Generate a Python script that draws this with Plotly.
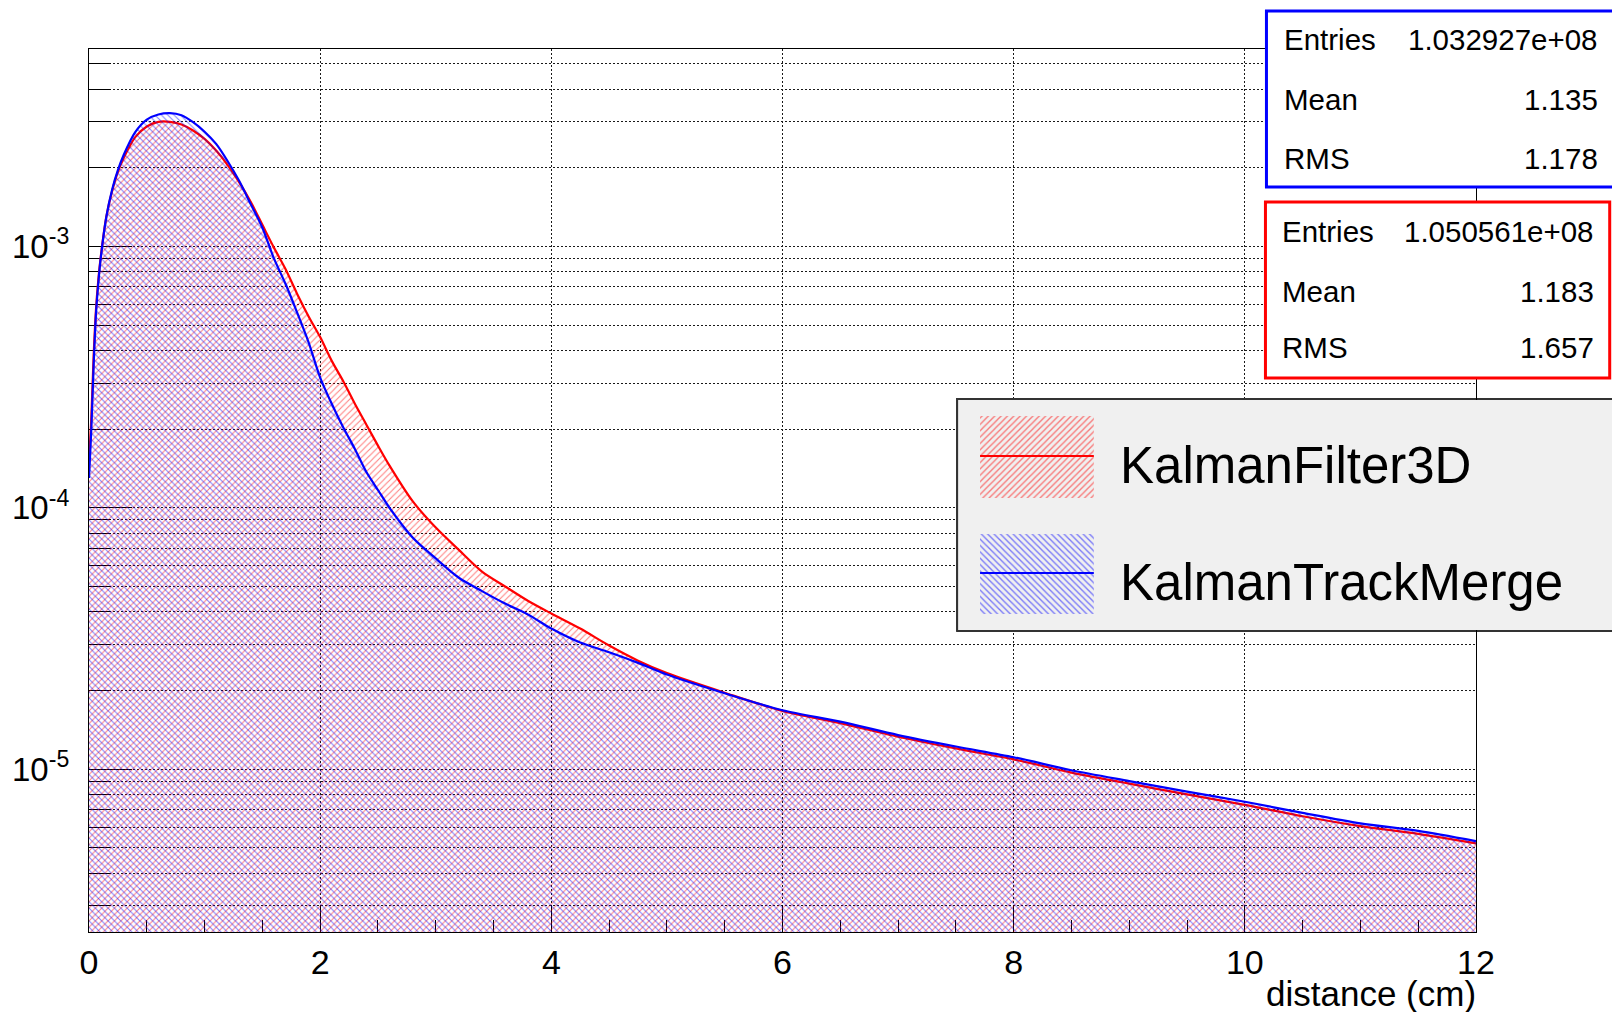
import plotly.graph_objects as go

# ---------------- data ----------------
distance_cm = [0.00, 0.02, 0.04, 0.06, 0.08, 0.10, 0.15, 0.20, 0.25, 0.30,
               0.40, 0.50, 0.60, 0.70, 0.80, 0.90, 1.00, 1.10, 1.20, 1.30,
               1.40, 1.50, 1.60, 1.70, 1.80, 1.90, 2.00, 2.10, 2.20, 2.30,
               2.40, 2.50, 2.60, 2.80, 3.00, 3.20, 3.40, 3.60, 3.80, 4.00,
               4.25, 4.50, 4.75, 5.00, 5.50, 6.00, 6.50, 7.00, 7.50, 8.00,
               8.50, 9.00, 9.50, 10.0, 10.5, 11.0, 11.5, 12.0]

kalman_filter_3d = [1.5e-4, 2.2e-4, 3.8e-4, 5.7e-4, 7.4e-4, 9.0e-4, 1.30e-3, 1.63e-3, 1.93e-3, 2.18e-3,
                    2.62e-3, 2.88e-3, 3.00e-3, 3.00e-3, 2.93e-3, 2.78e-3, 2.58e-3, 2.33e-3, 2.05e-3, 1.76e-3,
                    1.48e-3, 1.21e-3, 9.9e-4, 8.2e-4, 6.6e-4, 5.4e-4, 4.5e-4, 3.65e-4, 3.05e-4, 2.5e-4,
                    2.08e-4, 1.73e-4, 1.45e-4, 1.06e-4, 8.4e-5, 6.9e-5, 5.7e-5, 5.0e-5, 4.4e-5, 3.94e-5,
                    3.45e-5, 2.97e-5, 2.6e-5, 2.33e-5, 1.96e-5, 1.67e-5, 1.50e-5, 1.33e-5, 1.20e-5, 1.09e-5,
                    9.7e-6, 8.8e-6, 8.0e-6, 7.3e-6, 6.6e-6, 6.05e-6, 5.65e-6, 5.2e-6]

kalman_track_merge = [1.3e-4, 2.0e-4, 3.5e-4, 5.5e-4, 7.2e-4, 8.9e-4, 1.30e-3, 1.65e-3, 1.96e-3, 2.24e-3,
                      2.74e-3, 3.06e-3, 3.20e-3, 3.24e-3, 3.18e-3, 2.99e-3, 2.75e-3, 2.47e-3, 2.12e-3, 1.78e-3,
                      1.45e-3, 1.18e-3, 9.0e-4, 7.2e-4, 5.6e-4, 4.3e-4, 3.15e-4, 2.5e-4, 2.03e-4, 1.68e-4,
                      1.37e-4, 1.17e-4, 1.0e-4, 7.7e-5, 6.4e-5, 5.4e-5, 4.8e-5, 4.3e-5, 3.9e-5, 3.45e-5,
                      3.05e-5, 2.8e-5, 2.55e-5, 2.3e-5, 1.95e-5, 1.68e-5, 1.52e-5, 1.35e-5, 1.22e-5, 1.11e-5,
                      9.9e-6, 9.0e-6, 8.2e-6, 7.5e-6, 6.8e-6, 6.2e-6, 5.8e-6, 5.3e-6]

series_names = ["KalmanFilter3D", "KalmanTrackMerge"]

x_major_ticks = [0, 2, 4, 6, 8, 10, 12]
y_major_ticks = [1e-5, 1e-4, 1e-3]
y_major_text = ["10<sup>-5</sup>", "10<sup>-4</sup>", "10<sup>-3</sup>"]

stats_track_merge = [("Entries", "1.032927e+08"), ("Mean", "1.135"), ("RMS", "1.178")]
stats_filter_3d = [("Entries", "1.050561e+08"), ("Mean", "1.183"), ("RMS", "1.657")]

# ---------------- geometry / style ----------------
W, H = 1612, 1012
L, R, T, B = 86, 1476, 49, 932
PW, PH = R - L, B - T
Y_RANGE = [-5.6234, -2.2442]
FONT = "Liberation Sans, Arial, Helvetica, sans-serif"
RED, BLUE = "#ff0000", "#0000ff"
GRID_DASH = "1.5px,2.5px"
GRID_COL = "#1a1a1a"
LEG_BG = "#f0f0f0"
HATCH_SIZE, HATCH_SOLID = 4.5, 0.24


def px(xpix):
    return (xpix - L) / PW


def py(ypix):
    return (B - ypix) / PH


y_minor_ticks = [m * 10.0 ** e for e in (-6, -5, -4, -3) for m in range(2, 10)
                 if 10 ** Y_RANGE[0] < m * 10.0 ** e < 10 ** Y_RANGE[1]]
x_minor_ticks = [v / 2 for v in range(0, 25) if v % 4 != 0]

fig = go.Figure()

# histograms
for name, vals, col, shp in [(series_names[0], kalman_filter_3d, RED, "/"),
                             (series_names[1], kalman_track_merge, BLUE, "\\")]:
    fig.add_trace(go.Scatter(
        x=distance_cm, y=vals, name=name, mode="lines",
        line=dict(color=col, width=2.2, shape="spline", smoothing=0.8),
        fill="tozeroy", fillcolor="rgba(0,0,0,0)",
        fillpattern=dict(shape=shp, size=HATCH_SIZE, solidity=HATCH_SOLID, fgcolor=col,
                         bgcolor="rgba(0,0,0,0)"),
        hoverinfo="skip", showlegend=False,
    ))

# legend box (inside-the-frame part drawn on an overlay subplot so it hides the grid)
lg_x0, lg_y0, lg_y1 = px(956), py(631), py(399)
fig.add_trace(go.Scatter(
    x=[lg_x0, 1.2, 1.2, lg_x0, lg_x0], y=[lg_y0, lg_y0, lg_y1, lg_y1, lg_y0],
    xaxis="x2", yaxis="y2", mode="lines", fill="toself", fillcolor=LEG_BG,
    line=dict(color="#333333", width=2), hoverinfo="skip", showlegend=False))

patches = [(RED, "/", 416, 498, 456, 465, series_names[0]),
           (BLUE, "\\", 534, 614, 573, 582, series_names[1])]
for col, shp, ytop, ybot, yline, ytext, label in patches:
    x0, x1 = px(979), px(1093)
    fig.add_trace(go.Scatter(
        x=[x0, x1, x1, x0, x0], y=[py(ybot), py(ybot), py(ytop), py(ytop), py(ybot)],
        xaxis="x2", yaxis="y2", mode="lines", fill="toself", fillcolor="rgba(0,0,0,0)",
        fillpattern=dict(shape=shp, size=HATCH_SIZE, solidity=0.3, fgcolor=col,
                         bgcolor="rgba(0,0,0,0)"),
        line=dict(width=0, color="rgba(0,0,0,0)"), hoverinfo="skip", showlegend=False))
    fig.add_trace(go.Scatter(
        x=[x0, x1], y=[py(yline), py(yline)], xaxis="x2", yaxis="y2", mode="lines",
        line=dict(color=col, width=2), hoverinfo="skip", showlegend=False))
    fig.add_annotation(text=label, xref="paper", yref="paper", x=px(1117), y=py(ytext),
                       xanchor="left", yanchor="middle", showarrow=False,
                       font=dict(family=FONT, size=51, color="black"))

shapes = [
    # legend box part outside the frame
    dict(type="rect", xref="paper", yref="paper", x0=lg_x0, x1=1.2, y0=lg_y0, y1=lg_y1,
         fillcolor=LEG_BG, line=dict(color="#333333", width=2), layer="below"),
    # hide the frame's right edge where the legend box lies over it
    dict(type="rect", xref="paper", yref="paper", x0=px(1472), x1=px(1480),
         y0=py(630), y1=py(400), fillcolor=LEG_BG, line=dict(width=0), layer="above"),
    # stat boxes
    dict(type="rect", xref="paper", yref="paper", x0=px(1266), x1=1.2, y0=py(187), y1=py(11),
         fillcolor="white", line=dict(color=BLUE, width=3), layer="above"),
    dict(type="rect", xref="paper", yref="paper", x0=px(1265), x1=px(1610), y0=py(378), y1=py(202),
         fillcolor="white", line=dict(color=RED, width=3), layer="above"),
]

for stats, xl, xr, ys in [(stats_track_merge, 1285, 1597, [40, 99, 158]),
                          (stats_filter_3d, 1283, 1593, [231, 291, 348])]:
    for (k, v), yy in zip(stats, ys):
        fig.add_annotation(text=k, xref="paper", yref="paper", x=px(xl - 3), y=py(yy),
                           xanchor="left", yanchor="middle", showarrow=False,
                           font=dict(family=FONT, size=29.5, color="black"))
        fig.add_annotation(text=v, xref="paper", yref="paper", x=px(xr + 3), y=py(yy),
                           xanchor="right", yanchor="middle", showarrow=False,
                           font=dict(family=FONT, size=29.5, color="black"))

fig.add_annotation(text="distance (cm)", xref="paper", yref="paper", x=px(1478), y=py(994),
                   xanchor="right", yanchor="middle", showarrow=False,
                   font=dict(family=FONT, size=35, color="black"))

fig.update_layout(
    width=W, height=H,
    margin=dict(l=L, r=W - R, t=T, b=H - B, pad=0),
    paper_bgcolor="white", plot_bgcolor="white",
    font=dict(family=FONT, color="black"),
    shapes=shapes,
    showlegend=False,
    xaxis=dict(range=[0, 12], tickmode="array", tickvals=x_major_ticks,
               ticks="inside", ticklen=27, tickwidth=1.2, tickcolor="black",
               showgrid=True, gridcolor=GRID_COL, gridwidth=1, griddash=GRID_DASH,
               minor=dict(tickmode="array", tickvals=x_minor_ticks, ticks="inside",
                          ticklen=12, tickwidth=1.2, tickcolor="black", showgrid=False),
               showline=True, mirror=True, linecolor="black", linewidth=1.3,
               zeroline=False, tickfont=dict(size=34), ticklabelstandoff=0,
               layer="below traces", fixedrange=True),
    yaxis=dict(type="log", range=Y_RANGE, tickmode="array", tickvals=y_major_ticks,
               ticktext=y_major_text, ticks="inside", ticklen=43, tickwidth=1.2,
               tickcolor="black",
               showgrid=True, gridcolor=GRID_COL, gridwidth=1, griddash=GRID_DASH,
               minor=dict(tickmode="array", tickvals=y_minor_ticks, ticks="inside",
                          ticklen=22, tickwidth=1.2, tickcolor="black", showgrid=True,
                          gridcolor=GRID_COL, gridwidth=1, griddash=GRID_DASH),
               showline=True, mirror=True, linecolor="black", linewidth=1.3,
               zeroline=False, tickfont=dict(size=33), ticklabelstandoff=12,
               layer="below traces", fixedrange=True),
    xaxis2=dict(overlaying="x", anchor="y2", range=[0, 1], visible=False, fixedrange=True),
    yaxis2=dict(overlaying="y", anchor="x2", range=[0, 1], visible=False, fixedrange=True),
)

fig.write_html("out.html", config={"displayModeBar": False},
               post_script="document.body.style.margin='0';")
